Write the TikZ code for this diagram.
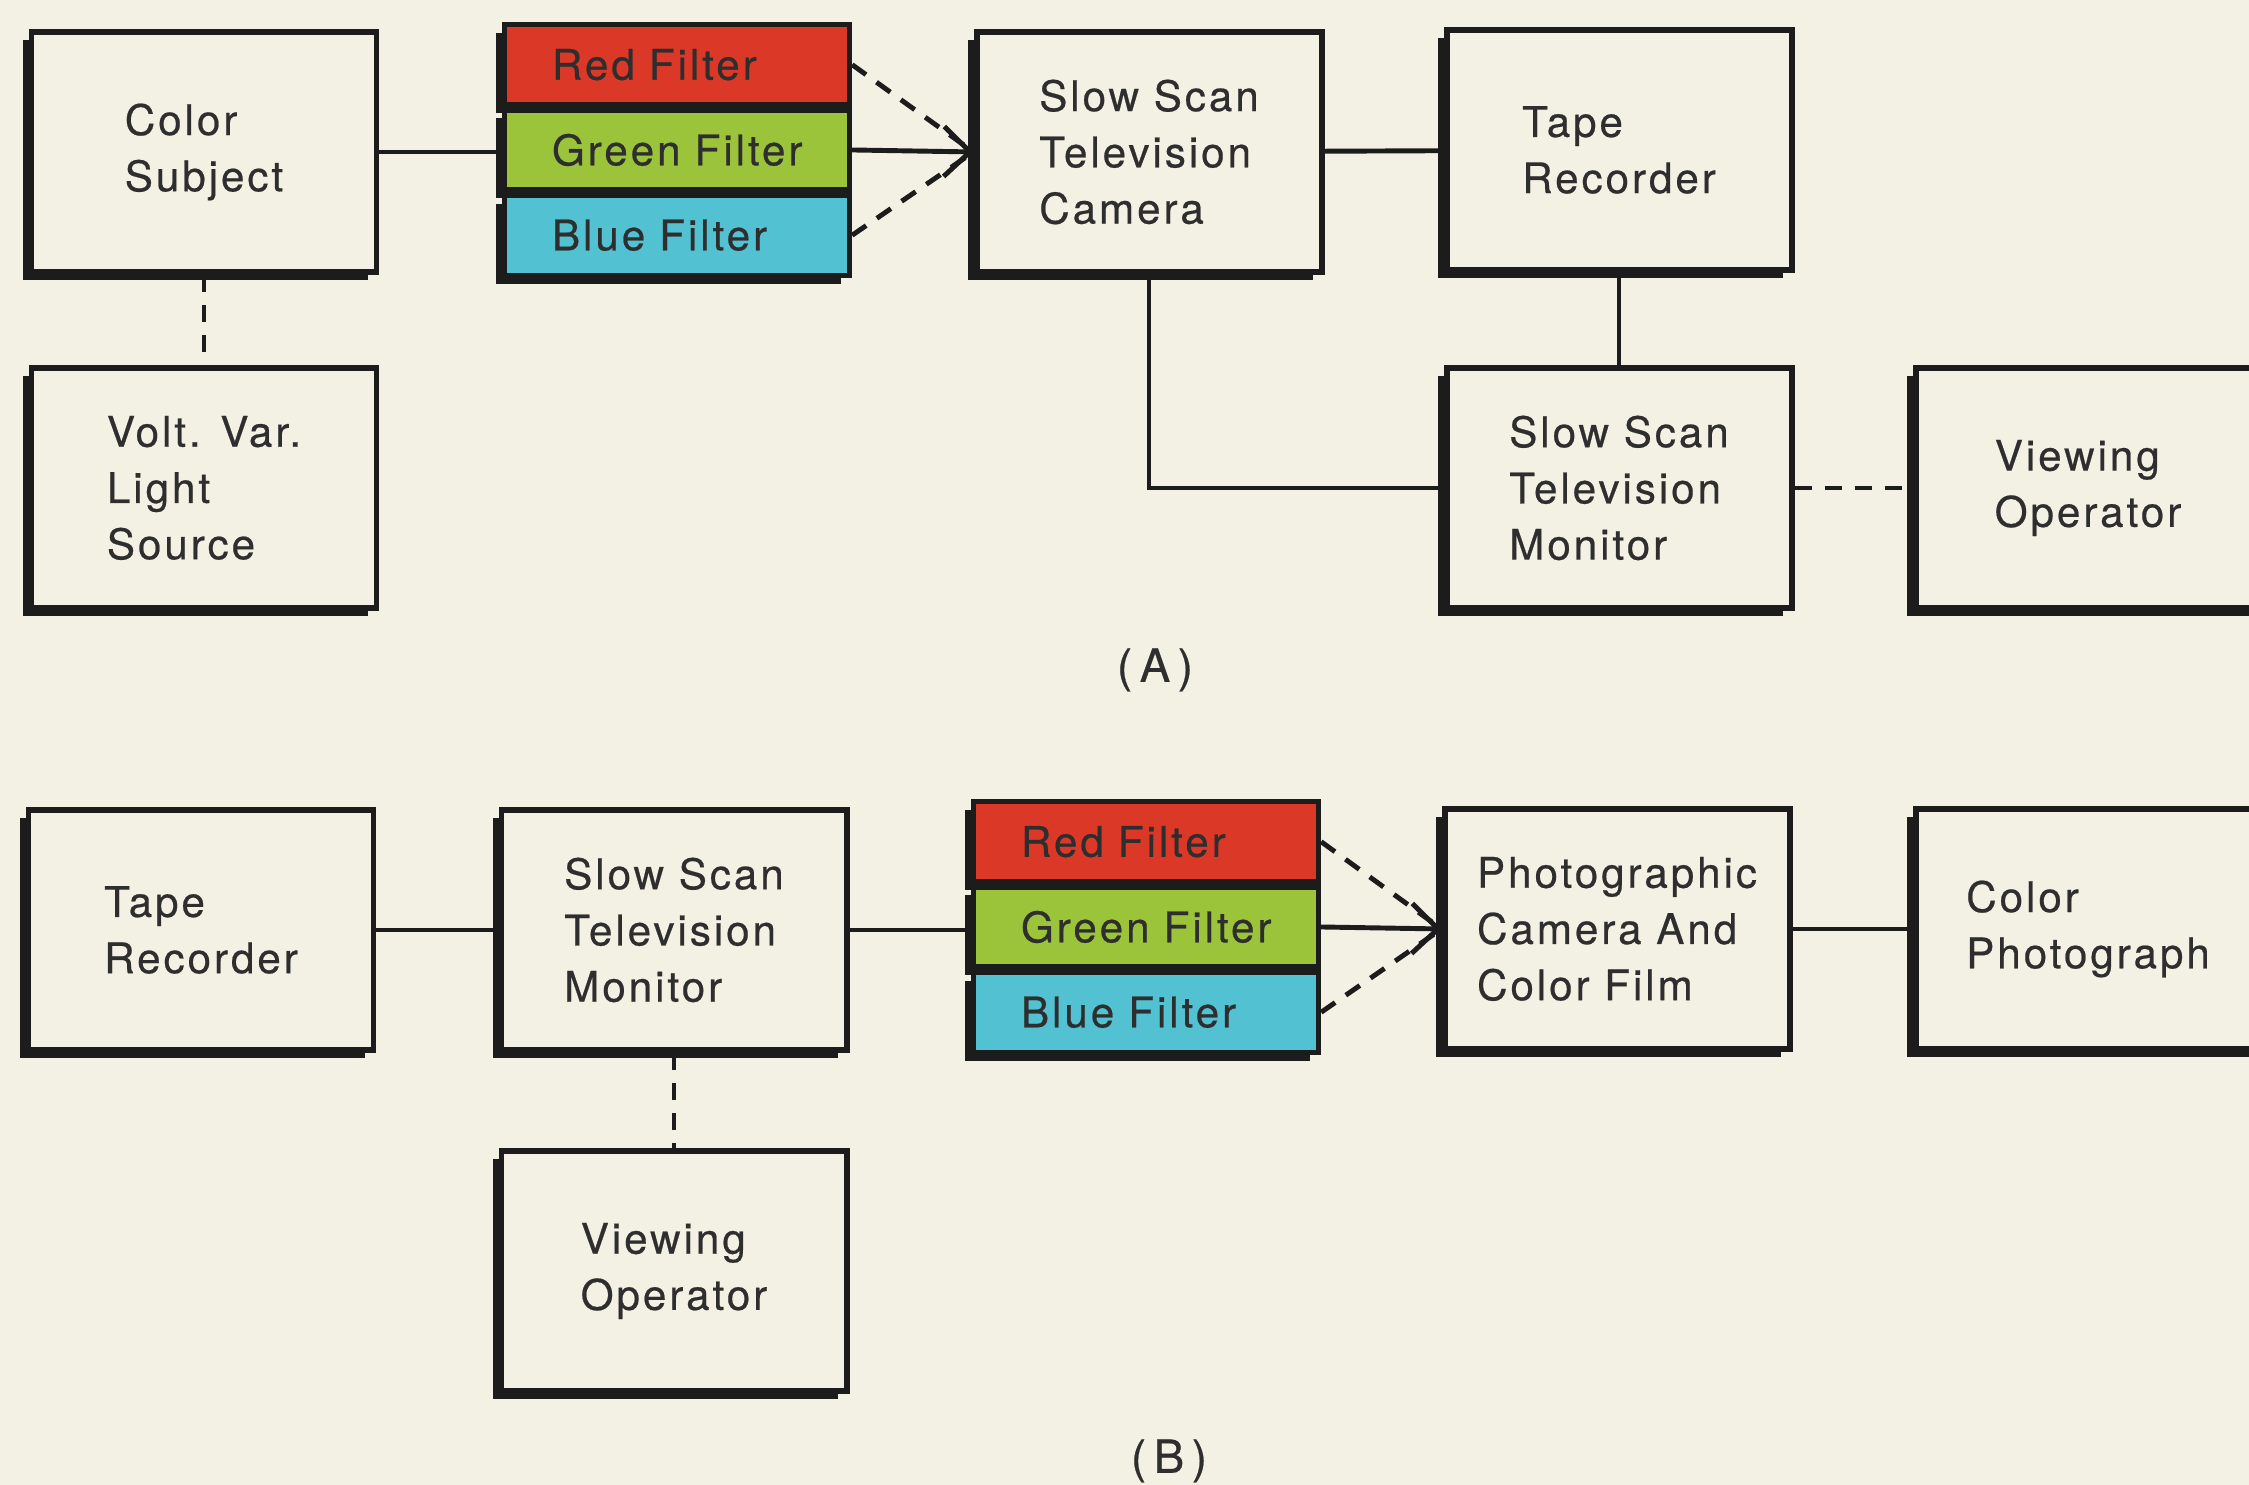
\documentclass[tikz,border=0pt]{standalone}
\usepackage{fontspec}
\setmainfont{TeX Gyre Heros}[LetterSpace=7, FakeBold=0.5]
\usepackage{xcolor}
\usetikzlibrary{positioning,arrows.meta,shadows}
\definecolor{paper} {HTML}{F3F1E4}
\definecolor{ink}   {HTML}{1C1C1C}
\definecolor{textc} {HTML}{2E2E2E}
\definecolor{redf}  {HTML}{DC3828}
\definecolor{greenf}{HTML}{9CC43A}
\definecolor{bluef} {HTML}{52C1D2}
\tikzset{
  blk/.style    = {draw=ink, fill=paper, line width=1.7pt,
                   minimum width=34.5mm, minimum height=24mm, align=left,
                   text=textc, font=\fontsize{12}{16}\selectfont, inner sep=2pt,
                   drop shadow={shadow xshift=-2.4pt, shadow yshift=-2.4pt,
                                opacity=1, fill=ink}},
  band/.style   = {draw=ink, line width=1.5pt, minimum width=34.5mm,
                   minimum height=8mm, text width=25mm, align=left,
                   text=textc, font=\fontsize{12}{14}\selectfont, inner sep=0pt,
                   drop shadow={shadow xshift=-2.4pt, shadow yshift=-2.4pt,
                                opacity=1, fill=ink}},
  wire/.style   = {draw=ink, line width=1.4pt},
  dashln/.style = {draw=ink, line width=1.4pt, dash pattern=on 1.7mm off 1.3mm},
  tip/.style    = {-{Straight Barb[length=2.6mm, width=5mm, line width=1.4pt]}},
  lbl/.style    = {text=textc, font=\fontsize{13}{15}\selectfont},
}
\begin{document}
\begin{tikzpicture}
  \clip (0,0) rectangle (22.49,14.85);
  \fill[paper] (0,0) rectangle (22.49,14.85);

  % (A) recording
  \node[blk] (subj)   at (2.04,13.33)  {Color\\Subject};
  \node[blk] (lightA) at (2.04,9.97)   {Volt. Var.\\Light\\Source};
  \node[band, fill=greenf] (greenA) at (6.77,13.35) {Green Filter};
  \node[band, fill=redf, above=0pt of greenA]  (redA)  {Red Filter};
  \node[band, fill=bluef, below=0pt of greenA] (blueA) {Blue Filter};
  \node[blk] (camA)   at (11.49,13.33) {Slow Scan\\Television\\Camera};
  \node[blk] (tapeA)  at (16.19,13.35) {Tape\\Recorder};
  \node[blk] (monA)   at (16.19,9.97)  {Slow Scan\\Television\\Monitor};
  \node[blk] (viewA)  at (20.88,9.97)  {Viewing\\Operator};
  \node[lbl] (capA)   at (11.55,8.15)  {(\,A\,)};

  \draw[wire] (subj.east) -- (subj.east -| greenA.west);
  \draw[dashln] (subj) -- (lightA);
  \draw[dashln] (redA.east) -- (camA.west);
  \draw[dashln] (blueA.east) -- (camA.west);
  \draw[wire, tip] (greenA.east) -- (camA.west);
  \draw[wire] (camA) -- (tapeA);
  \draw[wire] (tapeA) -- (monA);
  \draw[wire] (camA.south) |- (monA.west);
  \draw[dashln] (monA) -- (viewA);

  % (B) playback
  \node[blk] (tapeB)  at (2.01,5.55)   {Tape\\Recorder};
  \node[blk] (monB)   at (6.74,5.55)   {Slow Scan\\Television\\Monitor};
  \node[blk] (viewB)  at (6.74,2.14)   {Viewing\\Operator};
  \node[band, fill=greenf] (greenB) at (11.46,5.58) {Green Filter};
  \node[band, fill=redf, above=0pt of greenB]  (redB)  {Red Filter};
  \node[band, fill=bluef, below=0pt of greenB] (blueB) {Blue Filter};
  \node[blk] (photo)  at (16.17,5.56)  {Photographic\\Camera And\\Color Film};
  \node[blk] (colph)  at (20.88,5.56)  {Color\\Photograph};
  \node[lbl] (capB)   at (11.69,0.24)  {(\,B\,)};

  \draw[wire] (tapeB) -- (monB);
  \draw[wire] (monB.east) -- (monB.east -| greenB.west);
  \draw[dashln] (monB) -- (viewB);
  \draw[dashln] (redB.east) -- (photo.west);
  \draw[dashln] (blueB.east) -- (photo.west);
  \draw[wire, tip] (greenB.east) -- (photo.west);
  \draw[wire] (photo) -- (colph);
\end{tikzpicture}
\end{document}
